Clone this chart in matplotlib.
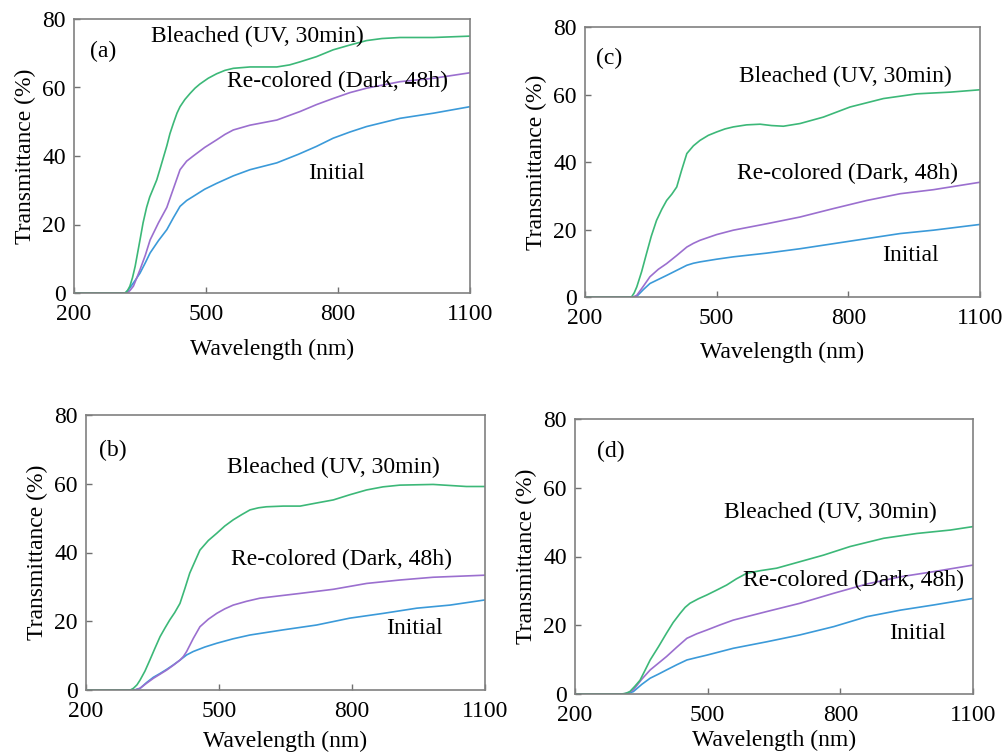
import matplotlib
matplotlib.use("Agg")
import matplotlib.pyplot as plt

plt.rcParams['font.family'] = ['Liberation Serif', 'DejaVu Serif']

GREEN = '#3cb878'
PURPLE = '#9b6fcf'
BLUE = '#3b9ad9'

# panel (a)
a_bleached_x = [200, 300, 316, 322, 327, 333, 339, 345, 350, 357, 365, 372, 380, 388, 395, 403, 411, 418, 426, 434, 441, 452, 464, 475, 486, 505, 524, 543, 562, 600, 661, 690, 714, 751, 789, 827, 865, 900, 941, 1017, 1100]
a_bleached_y = [0, 0, 0, 0.8, 2, 4.5, 7.8, 12, 15.5, 20.5, 25, 28, 30.5, 33, 36, 39.5, 43, 46.5, 49.6, 52.5, 54.4, 56.5, 58.3, 59.8, 61, 62.7, 64, 65, 65.6, 66, 66, 66.6, 67.5, 69, 71, 72.4, 73.7, 74.3, 74.6, 74.6, 75]
a_recolored_x = [200, 300, 320, 327, 335, 342, 350, 362, 373, 392, 411, 426, 441, 456, 471, 497, 524, 543, 562, 600, 661, 714, 751, 789, 827, 865, 941, 1017, 1100]
a_recolored_y = [0, 0, 0, 0.7, 2, 4.2, 6.8, 11, 15.5, 20.5, 25, 30.5, 36, 38.5, 40, 42.5, 44.7, 46.3, 47.6, 49, 50.5, 53, 55, 56.8, 58.5, 59.8, 61.7, 62.7, 64.3]
a_initial_x = [200, 300, 318, 327, 338, 350, 362, 373, 392, 411, 426, 441, 456, 471, 497, 524, 562, 600, 661, 710, 751, 789, 827, 865, 941, 1017, 1100]
a_initial_y = [0, 0, 0, 1.5, 3.5, 5.8, 8.8, 11.7, 15.3, 18.5, 22, 25.3, 27, 28.2, 30.3, 32, 34.2, 36, 38, 40.5, 42.8, 45.2, 47, 48.6, 51, 52.5, 54.4]

# panel (b)
b_bleached_x = [200, 300, 307, 315, 322, 333, 344, 355, 367, 378, 389, 400, 412, 423, 434, 446, 457, 476, 495, 513, 532, 551, 570, 589, 607, 645, 683, 720, 758, 795, 833, 870, 908, 983, 1058, 1100]
b_bleached_y = [0, 0, 0.5, 1.5, 2.9, 5.5, 8.7, 12, 15.5, 18, 20.4, 22.5, 25.2, 29.5, 34, 37.5, 40.7, 43.5, 45.6, 47.7, 49.5, 51, 52.4, 53, 53.3, 53.5, 53.5, 54.4, 55.3, 56.8, 58.2, 59.1, 59.6, 59.8, 59.2, 59.2]
b_recolored_x = [200, 310, 322, 337, 352, 367, 382, 397, 412, 420, 427, 442, 457, 476, 495, 513, 532, 562, 592, 637, 683, 758, 833, 908, 983, 1100]
b_recolored_y = [0, 0, 0.5, 2, 3.4, 4.6, 5.8, 7.2, 8.7, 9.8, 11.2, 15, 18.4, 20.6, 22.3, 23.6, 24.7, 25.8, 26.7, 27.4, 28.1, 29.3, 31, 32, 32.8, 33.4]
b_initial_x = [200, 310, 322, 337, 352, 367, 382, 397, 412, 427, 442, 468, 495, 532, 570, 645, 720, 795, 871, 946, 1021, 1100]
b_initial_y = [0, 0, 0.5, 2.2, 3.7, 4.8, 6, 7.3, 8.7, 10.2, 11.2, 12.5, 13.6, 14.9, 16, 17.5, 18.9, 20.9, 22.3, 23.8, 24.7, 26.2]

# panel (c)
c_bleached_x = [200, 300, 306, 312, 318, 329, 340, 351, 363, 375, 386, 398, 409, 420, 432, 447, 462, 481, 500, 519, 538, 568, 599, 625, 652, 690, 743, 804, 880, 956, 1032, 1100]
c_bleached_y = [0, 0, 0, 1.2, 3, 7.5, 12.8, 18, 22.7, 26, 28.6, 30.5, 32.6, 37.5, 42.5, 44.8, 46.4, 47.9, 48.9, 49.8, 50.4, 51, 51.2, 50.8, 50.6, 51.4, 53.3, 56.3, 58.8, 60.2, 60.7, 61.4]
c_recolored_x = [200, 310, 318, 333, 348, 367, 386, 409, 432, 447, 462, 500, 538, 614, 690, 766, 842, 918, 994, 1100]
c_recolored_y = [0, 0, 0.5, 3.2, 6, 8.2, 9.9, 12.3, 14.8, 15.9, 16.8, 18.5, 19.8, 21.7, 23.7, 26.2, 28.6, 30.6, 31.8, 34]
c_initial_x = [200, 310, 318, 333, 348, 367, 386, 409, 432, 447, 462, 500, 538, 614, 690, 766, 842, 918, 994, 1100]
c_initial_y = [0, 0, 0.2, 2.2, 4, 5.2, 6.4, 7.9, 9.4, 10, 10.4, 11.2, 11.9, 13, 14.3, 15.8, 17.3, 18.8, 19.8, 21.5]

# panel (d)
d_bleached_x = [200, 305, 315, 324, 335, 347, 358, 370, 389, 407, 422, 438, 449, 460, 479, 498, 520, 543, 565, 588, 620, 656, 709, 762, 822, 898, 973, 1049, 1100]
d_bleached_y = [0, 0, 0.2, 0.7, 2.2, 4, 6.8, 9.9, 13.8, 17.7, 20.8, 23.5, 25.2, 26.4, 27.7, 28.8, 30.2, 31.7, 33.5, 35.1, 35.9, 36.6, 38.5, 40.4, 42.9, 45.3, 46.7, 47.7, 48.7]
d_recolored_x = [200, 310, 321, 332, 351, 370, 389, 407, 430, 453, 475, 498, 528, 558, 634, 709, 785, 860, 936, 1011, 1100]
d_recolored_y = [0, 0, 0.4, 1.2, 4.3, 7, 9, 10.9, 13.6, 16.2, 17.5, 18.6, 20.1, 21.5, 24, 26.4, 29.3, 32, 34.1, 35.6, 37.5]
d_initial_x = [200, 310, 321, 332, 351, 370, 389, 407, 430, 453, 475, 498, 528, 558, 634, 709, 785, 860, 936, 1011, 1100]
d_initial_y = [0, 0, 0.2, 0.7, 2.8, 4.6, 5.8, 7, 8.5, 9.9, 10.6, 11.3, 12.3, 13.3, 15.2, 17.2, 19.6, 22.5, 24.4, 25.9, 27.8]

x_ticks = [200, 500, 800, 1100]
y_ticks = [0, 20, 40, 60, 80]

W, H = 1007, 754
fig = plt.figure(figsize=(W / 100, H / 100), dpi=100)


def make_axes(x0, y0, x1, y1):
    return fig.add_axes([x0 / W, 1 - y1 / H, (x1 - x0) / W, (y1 - y0) / H])


panels = [
    # box, tag, curves, text positions (tag, bleached, recolored, initial), xlabel pad
    ((74, 19, 470, 293), '(a)',
     (a_bleached_x, a_bleached_y, a_recolored_x, a_recolored_y, a_initial_x, a_initial_y),
     [(236, 70.5), (376, 74.8), (548, 61.7), (733, 35)], 10),
    ((585, 27, 980, 297), '(c)',
     (c_bleached_x, c_bleached_y, c_recolored_x, c_recolored_y, c_initial_x, c_initial_y),
     [(224, 70.6), (552, 65.4), (546, 36.7), (878, 12.3)], 9),
    ((86, 415, 485, 690), '(b)',
     (b_bleached_x, b_bleached_y, b_recolored_x, b_recolored_y, b_initial_x, b_initial_y),
     [(230, 69.8), (519, 64.8), (527, 38), (876, 17.9)], 6),
    ((575, 419, 973, 694), '(d)',
     (d_bleached_x, d_bleached_y, d_recolored_x, d_recolored_y, d_initial_x, d_initial_y),
     [(249, 70.5), (538, 52.8), (579, 33), (911, 17.7)], 3),
]

fs = 17
for box, tag, curves, pos, xpad in panels:
    ax = make_axes(*box)
    bx, by, rx, ry, ix, iy = curves
    ax.plot(ix, iy, color=BLUE, lw=1.2)
    ax.plot(rx, ry, color=PURPLE, lw=1.2)
    ax.plot(bx, by, color=GREEN, lw=1.2)
    ax.set_xlim(200, 1100)
    ax.set_ylim(0, 80)
    ax.set_xticks(x_ticks)
    ax.set_yticks(y_ticks)
    ax.tick_params(direction='in', length=4, width=1, colors='#707070',
                   labelcolor='black', labelsize=fs)
    ax.tick_params(axis='x', pad=8)
    ax.tick_params(axis='y', pad=6)
    for s in ax.spines.values():
        s.set_color('#808080')
        s.set_linewidth(1.2)
    ax.set_xlabel('Wavelength (nm)', fontsize=fs, labelpad=xpad)
    ax.set_ylabel('Transmittance (%)', fontsize=fs, labelpad=4)
    ax.text(pos[0][0], pos[0][1], tag, fontsize=fs, va='center')
    ax.text(pos[1][0], pos[1][1], 'Bleached (UV, 30min)', fontsize=fs, va='center')
    ax.text(pos[2][0], pos[2][1], 'Re-colored (Dark, 48h)', fontsize=fs, va='center')
    ax.text(pos[3][0], pos[3][1], 'Initial', fontsize=fs, va='center')

fig.savefig('out.png', dpi=100)
